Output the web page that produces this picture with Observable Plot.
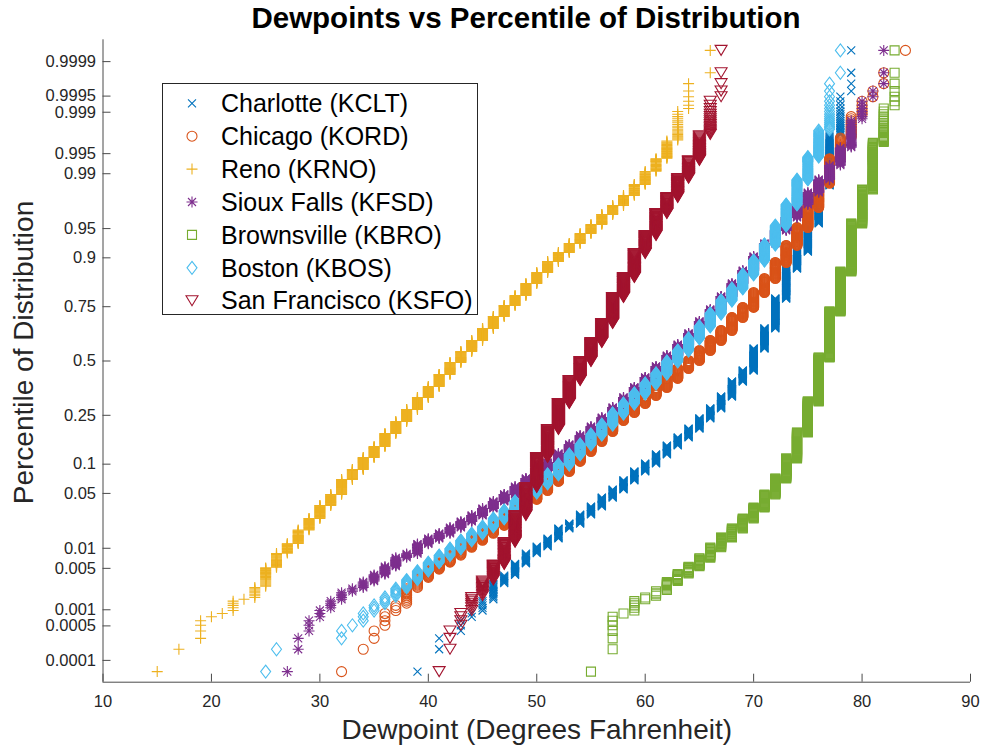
<!DOCTYPE html>
<html><head><meta charset="utf-8">
<script src="https://cdn.jsdelivr.net/npm/d3@7"></script>
<script src="https://cdn.jsdelivr.net/npm/@observablehq/plot@0.6"></script>
<style>
body{margin:0;background:#fff;}
#wrap{position:relative;width:986px;height:750px;background:#fff;font-family:"Liberation Sans",Arial,Helvetica,sans-serif;}
#title{position:absolute;left:0;top:0;width:986px;height:38px;}
#title span{position:absolute;left:526px;top:3px;transform:translateX(-50%);white-space:nowrap;font-weight:bold;font-size:29.5px;line-height:29.5px;color:#000;}
#chart{position:absolute;left:0;top:38px;}
#legend{position:absolute;left:0;top:0;}
</style></head><body>
<div id="wrap"><div id="title"><span>Dewpoints vs Percentile of Distribution</span></div><div id="chart"></div></div>
<script>
// ---------------- data (cumulative fraction of hours at or below each dewpoint) ----------------
const N_HOURS = 8760;
const stationNames = ["Charlotte (KCLT)","Chicago (KORD)","Reno (KRNO)","Sioux Falls (KFSD)","Brownsville (KBRO)","Boston (KBOS)","San Francisco (KSFO)"];
const stationColors = ["#0072BD","#D95319","#EDB120","#7E2F8E","#77AC30","#4DBEEE","#A2142F"];

const charlotteDew = [39,41,43,44,45,46,47,48,49,50,51,52,53,54,55,56,57,58,59,60,61,62,63,64,65,66,67,68,69,70,71,72,73,74,75,76,77,78,79];
const charlotteCum = [0.000114,0.000342,0.000685,0.000913,0.00148,0.00285,0.00385,0.00594,0.0084,0.0106,0.0137,0.0187,0.0217,0.0283,0.0354,0.0449,0.0552,0.0689,0.0849,0.1015,0.1228,0.1469,0.171,0.2008,0.2376,0.2776,0.3296,0.3994,0.453,0.5616,0.657,0.781,0.8747,0.913,0.9562,0.9854,0.99745,0.99954,1];

const chicagoDew = [32,34,35,36,37,38,39,40,41,42,43,44,45,46,47,48,49,50,51,52,53,54,55,56,57,58,59,60,61,62,63,64,65,66,67,68,69,70,71,72,73,74,75,76,77,78,79,80,81,82,84];
const chicagoCum = [0.000114,0.000228,0.000457,0.000913,0.0013,0.00236,0.00358,0.0048,0.00616,0.00784,0.01025,0.01287,0.01606,0.0205,0.0259,0.0335,0.0427,0.0538,0.0672,0.0849,0.106,0.1305,0.1587,0.1906,0.2299,0.2611,0.2988,0.334,0.3711,0.4141,0.463,0.5024,0.5517,0.6006,0.6476,0.7054,0.747,0.8026,0.8473,0.8895,0.9244,0.9513,0.9717,0.9863,0.99406,0.99725,0.99886,0.99943,0.99966,0.99989,1];

const renoDew = [15,17,19,20,21,22,23,24,25,26,27,28,29,30,31,32,33,34,35,36,37,38,39,40,41,42,43,44,45,46,47,48,49,50,51,52,53,54,55,56,57,58,59,60,61,62,63,64,66];
const renoCum = [0.000114,0.000228,0.000685,0.000799,0.000913,0.00148,0.0016,0.00251,0.00516,0.0084,0.0117,0.0179,0.0252,0.0363,0.0487,0.0705,0.0888,0.1152,0.1442,0.1838,0.2261,0.2736,0.3253,0.3756,0.4333,0.4925,0.547,0.6006,0.657,0.7099,0.7547,0.7921,0.8322,0.8642,0.8918,0.9112,0.9279,0.9434,0.9551,0.9656,0.9733,0.9801,0.9858,0.9907,0.99406,0.99692,0.99909,0.99977,1];

const siouxDew = [27,28,29,30,31,32,33,34,35,36,37,38,39,40,41,42,43,44,45,46,47,48,49,50,51,52,53,54,55,56,57,58,59,60,61,62,63,64,65,66,67,68,69,70,71,72,73,74,75,76,77,78,79,80,81,82];
const siouxCum = [0.000114,0.000342,0.000685,0.00103,0.00147,0.00201,0.00245,0.00308,0.004,0.00534,0.00732,0.00838,0.0115,0.0137,0.0161,0.0193,0.0231,0.0275,0.0335,0.0405,0.0487,0.0595,0.0721,0.0869,0.1037,0.1253,0.1499,0.1775,0.2079,0.2413,0.2817,0.3253,0.3711,0.4188,0.4729,0.5271,0.5812,0.6338,0.6883,0.7389,0.7885,0.8322,0.8695,0.9029,0.9279,0.9475,0.9627,0.9741,0.9818,0.9879,0.99243,0.996,0.99863,0.99943,0.99966,1];

const brownsvilleDew = [55,57,58,59,60,61,62,63,64,65,66,67,68,69,70,71,72,73,74,75,76,77,78,79,80,81,82,83];
const brownsvilleCum = [0.000114,0.000799,0.000913,0.0015,0.00171,0.00222,0.00308,0.00415,0.00534,0.0072,0.01025,0.01415,0.0187,0.0252,0.0344,0.0487,0.0722,0.113,0.187,0.3075,0.517,0.7307,0.8669,0.9562,0.9834,0.99668,0.9992,1];

const bostonDew = [25,26,32,33,34,35,36,37,38,39,40,41,42,43,44,45,46,47,48,49,50,51,52,53,54,55,56,57,58,59,60,61,62,63,64,65,66,67,68,69,70,71,72,73,74,75,76,77,78];
const bostonCum = [0.000114,0.000228,0.000457,0.000571,0.000913,0.0013,0.00172,0.00236,0.00332,0.00462,0.00616,0.00784,0.00993,0.01287,0.01606,0.0199,0.0252,0.0317,0.0405,0.0511,0.064,0.0793,0.0992,0.1228,0.1499,0.1806,0.2151,0.2572,0.2988,0.3431,0.3897,0.4384,0.4976,0.5517,0.6103,0.666,0.7224,0.7739,0.8162,0.8588,0.894,0.926,0.9538,0.9741,0.9879,0.99446,0.99799,0.99977,1];

const sfoDew = [41,42,43,44,45,46,47,48,49,50,51,52,53,54,55,56,57,58,59,60,61,62,63,64,65,66,67];
const sfoCum = [0.000114,0.000457,0.000913,0.00171,0.0032,0.00574,0.0121,0.0275,0.0581,0.1153,0.1974,0.2988,0.4044,0.4976,0.591,0.6794,0.7849,0.8501,0.9091,0.9405,0.9665,0.9789,0.9883,0.99363,0.99745,0.99943,1];

const yTickProbs = [0.0001,0.0005,0.001,0.005,0.01,0.05,0.1,0.25,0.5,0.75,0.9,0.95,0.99,0.995,0.999,0.9995,0.9999];
const yTickLabels = ["0.0001","0.0005","0.001","0.005","0.01","0.05","0.1","0.25","0.5","0.75","0.9","0.95","0.99","0.995","0.999","0.9995","0.9999"];
const xTicks = [10,20,30,40,50,60,70,80,90];
const xDomain = [10, 90];
const zDomain = [-3.99, 3.99];

// ---------------- helpers ----------------
function probit(p){
  const a=[-3.969683028665376e+01,2.209460984245205e+02,-2.759285104469687e+02,1.383577518672690e+02,-3.066479806614716e+01,2.506628277459239e+00];
  const b=[-5.447609879822406e+01,1.615858368580409e+02,-1.556989798598866e+02,6.680131188771972e+01,-1.328068155288572e+01];
  const c=[-7.784894002430293e-03,-3.223964580411365e-01,-2.400758277161838e+00,-2.549732539343734e+00,4.374664141464968e+00,2.938163982698783e+00];
  const d=[7.784695709041462e-03,3.224671290700398e-01,2.445134137142996e+00,3.754408661907416e+00];
  const pl=0.02425, ph=1-pl; let q,r;
  if(p<pl){q=Math.sqrt(-2*Math.log(p));return (((((c[0]*q+c[1])*q+c[2])*q+c[3])*q+c[4])*q+c[5])/((((d[0]*q+d[1])*q+d[2])*q+d[3])*q+1);}
  if(p<=ph){q=p-0.5;r=q*q;return (((((a[0]*r+a[1])*r+a[2])*r+a[3])*r+a[4])*r+a[5])*q/(((((b[0]*r+b[1])*r+b[2])*r+b[3])*r+b[4])*r+1);}
  q=Math.sqrt(-2*Math.log(1-p));return -(((((c[0]*q+c[1])*q+c[2])*q+c[3])*q+c[4])*q+c[5])/((((d[0]*q+d[1])*q+d[2])*q+d[3])*q+1);
}
// one point per hourly observation, plotted at its plotting position (r-0.5)/N (as normplot does);
// points closer than ~0.5px inside a column are merged since they overlap completely.
function obsPoints(dew, cum){
  const out=[]; let prev=0;
  dew.forEach((dv,k)=>{
    const hi=Math.max(prev, Math.round(cum[k]*N_HOURS));
    let lastZ=-Infinity;
    for(let r=prev+1;r<=hi;r++){
      const z=probit((r-0.5)/N_HOURS);
      if(z-lastZ>=0.006||r===hi){out.push({dew:dv,z});lastZ=z;}
    }
    prev=hi;
  });
  return out;
}
const mk=fn=>({draw(ctx,size){const s=Math.sqrt(size/Math.PI)/5;fn(ctx,s);}});
const symCross=mk((c,s)=>{const a=4*s;c.moveTo(-a,-a);c.lineTo(a,a);c.moveTo(-a,a);c.lineTo(a,-a);});
const symCircle=mk((c,s)=>{const r=5*s;c.moveTo(r,0);c.arc(0,0,r,0,2*Math.PI);});
const symPlus=mk((c,s)=>{const a=5.5*s;c.moveTo(-a,0);c.lineTo(a,0);c.moveTo(0,-a);c.lineTo(0,a);});
const symStar=mk((c,s)=>{const a=5.5*s,b=4*s;c.moveTo(-a,0);c.lineTo(a,0);c.moveTo(0,-a);c.lineTo(0,a);c.moveTo(-b,-b);c.lineTo(b,b);c.moveTo(-b,b);c.lineTo(b,-b);});
const symSquare=mk((c,s)=>{const a=4.5*s;c.rect(-a,-a,2*a,2*a);});
const symDiamond=mk((c,s)=>{const w=5*s,h=6.5*s;c.moveTo(0,-h);c.lineTo(w,0);c.lineTo(0,h);c.lineTo(-w,0);c.closePath();});
const symTriDown=mk((c,s)=>{const w=6*s,h=5*s;c.moveTo(-w,-h);c.lineTo(w,-h);c.lineTo(0,h);c.closePath();});
const symbols=[symCross,symCircle,symPlus,symStar,symSquare,symDiamond,symTriDown];

const seriesDew=[charlotteDew,chicagoDew,renoDew,siouxDew,brownsvilleDew,bostonDew,sfoDew];
const seriesCum=[charlotteCum,chicagoCum,renoCum,siouxCum,brownsvilleCum,bostonCum,sfoCum];

// ---------------- chart ----------------
const W=986,H=712,mL=102.5,mR=16,mT=1.3,mB=68.3;
const frameW=W-mL-mR, frameH=H-mT-mB;
const axisColor="#4a4a4a", textColor="#262626";
const yTickZ=yTickProbs.map(probit);
const labelByZ=new Map(yTickZ.map((z,i)=>[z,yTickLabels[i]]));

const marks=[
  Plot.ruleX([xDomain[0]],{stroke:axisColor,strokeWidth:1}),
  Plot.ruleY([zDomain[0]],{stroke:axisColor,strokeWidth:1}),
  Plot.tickY(yTickZ,{y:d=>d,stroke:axisColor,insetRight:frameW-8}),
  Plot.tickX(xTicks,{x:d=>d,stroke:axisColor,insetTop:frameH-8}),
  Plot.axisY(yTickZ,{tickSize:0,tickPadding:7,tickFormat:z=>labelByZ.get(z),fill:textColor,fontSize:16.5,label:null}),
  Plot.axisX(xTicks,{tickSize:0,tickPadding:13,tickFormat:d=>String(d),fill:textColor,fontSize:16.5,label:null})
];
seriesDew.forEach((dew,i)=>{
  marks.push(Plot.dot(obsPoints(dew,seriesCum[i]),{x:"dew",y:"z",symbol:symbols[i],r:5,stroke:stationColors[i],fill:"none",strokeWidth:1.1}));
});
marks.push(Plot.text(["Dewpoint (Degrees Fahrenheit)"],{text:d=>d,frameAnchor:"bottom",textAnchor:"middle",lineAnchor:"middle",dy:48,fontSize:28,fill:textColor}));
marks.push(Plot.text(["Percentile of Distribution"],{text:d=>d,frameAnchor:"left",textAnchor:"middle",lineAnchor:"middle",rotate:-90,dx:-78.5,dy:-8.5,fontSize:28,fill:textColor}));

const chart=Plot.plot({
  width:W,height:H,marginLeft:mL,marginRight:mR,marginTop:mT,marginBottom:mB,
  style:{background:"white",fontFamily:"'Liberation Sans',Arial,Helvetica,sans-serif",fontSize:"16.5px",color:textColor,overflow:"visible"},
  x:{domain:xDomain,label:null},
  y:{domain:zDomain,label:null},
  marks
});
document.getElementById("chart").appendChild(chart);

// ---------------- legend ----------------
const legend=d3.select("#wrap").append("svg").attr("id","legend")
  .attr("width",W).attr("height",330).style("position","absolute").style("left","0px").style("top","0px").style("pointer-events","none");
legend.append("rect").attr("x",162.5).attr("y",83.5).attr("width",315).attr("height",231)
  .attr("fill","white").attr("stroke","#262626").attr("stroke-width",1);
stationNames.forEach((name,i)=>{
  const cy=103.3+32.9*i;
  legend.append("path").attr("d",d3.symbol(symbols[i],25*Math.PI)()).attr("transform",`translate(192,${cy})`)
    .attr("fill","none").attr("stroke",stationColors[i]).attr("stroke-width",1.1);
  legend.append("text").attr("x",221).attr("y",cy).attr("dy","0.35em").attr("fill","#000")
    .style("font-family","'Liberation Sans',Arial,Helvetica,sans-serif").style("font-size","25px").text(name);
});
</script>
</body></html>
